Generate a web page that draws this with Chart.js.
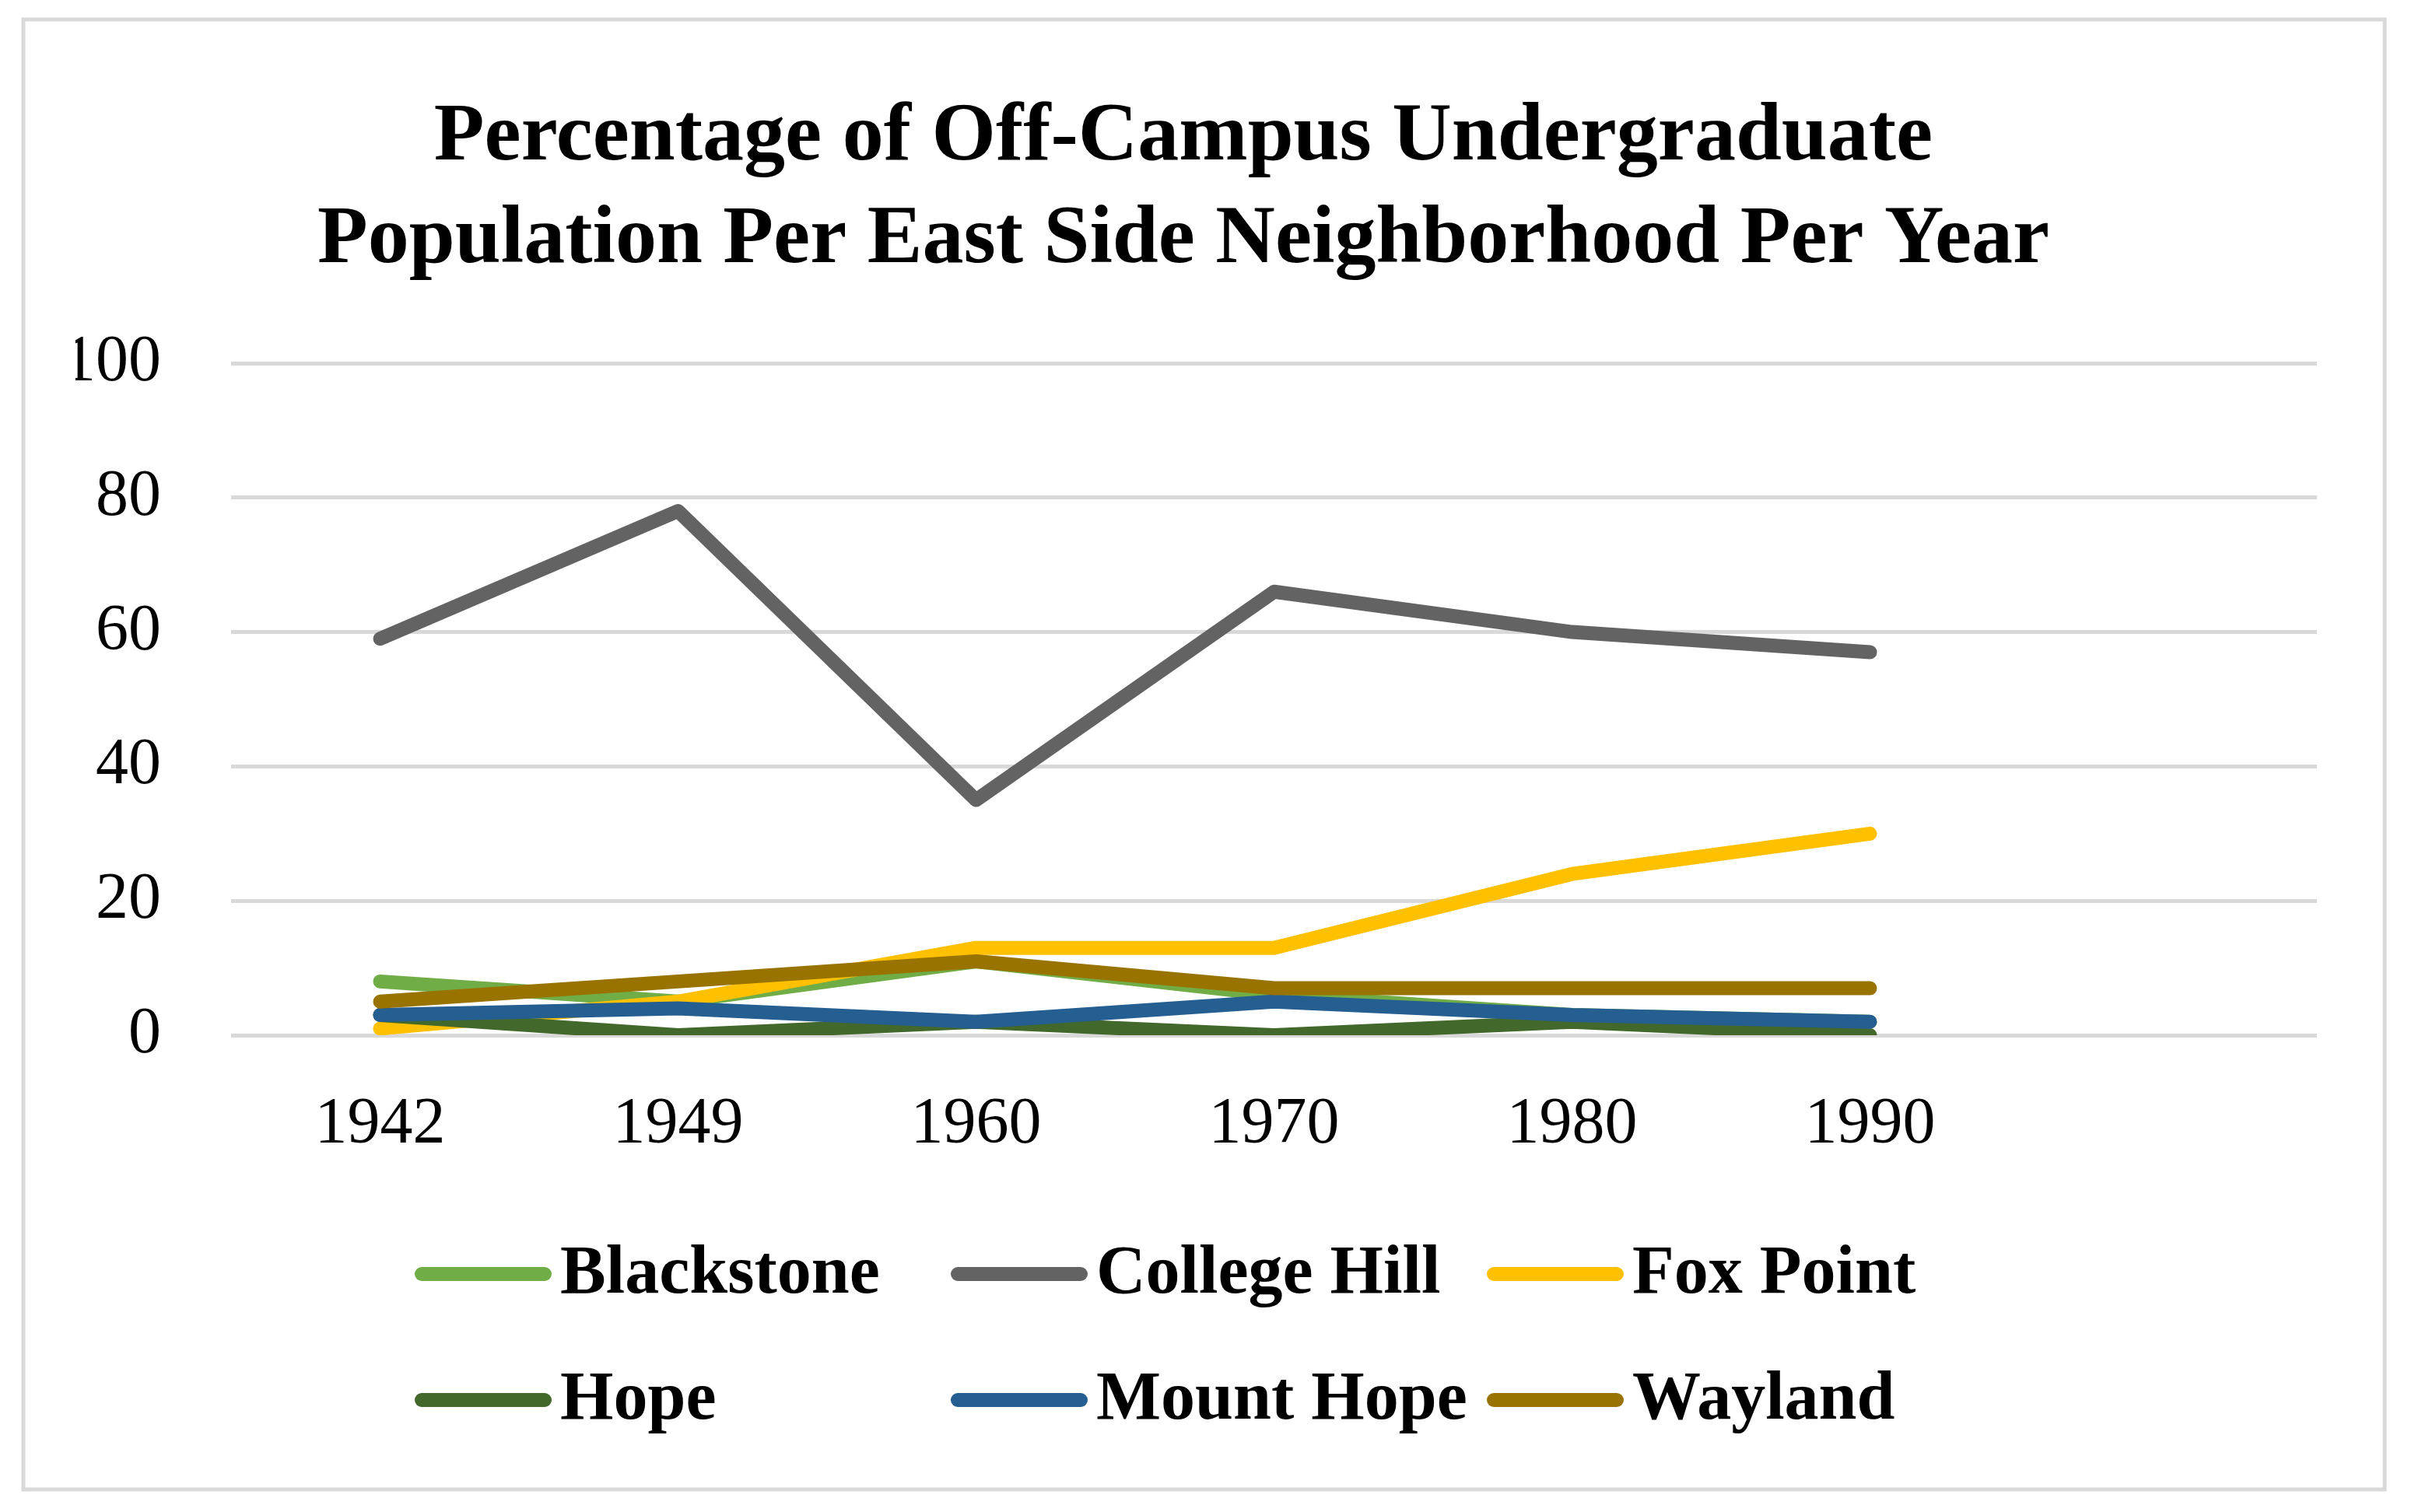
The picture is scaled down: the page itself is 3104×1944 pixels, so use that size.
<!DOCTYPE html>
<html lang="en">
<head>
    <meta charset="UTF-8">
    <title>Off-Campus Undergraduate Population</title>
    <script src="https://cdn.jsdelivr.net/npm/chart.js@4/dist/chart.umd.min.js"></script>
    <style>
        body { margin: 0; background: #fff; }
        canvas { display: block; }
    </style>
</head>
<body>
    <canvas id="chart" width="3104" height="1944" style="width:3104px;height:1944px"></canvas>

    <script>
        // Data (percent of off-campus undergrads)
        const years = ['1942', '1949', '1960', '1970', '1980', '1990', ''];
        const blackstone  = [8, 5, 11, 6, 3, 2, null];
        const collegeHill = [59, 78, 35, 66, 60, 57, null];
        const foxPoint    = [1, 5, 13, 13, 24, 30, null];
        const hope        = [3, 0, 2, 0, 2, 0, null];
        const mountHope   = [3, 4, 2, 5, 3, 2, null];
        const wayland     = [5, 8, 11, 7, 7, 7, null];
        const yTicks = [0, 20, 40, 60, 80, 100];

        const titleLines = ['Percentage of Off-Campus Undergraduate', 'Population Per East Side Neighborhood Per Year'];

        const series = [
            { label: 'Blackstone',   data: blackstone,  color: '#70AD47' },
            { label: 'College Hill', data: collegeHill, color: '#636363' },
            { label: 'Fox Point',    data: foxPoint,    color: '#FFC000' },
            { label: 'Hope',         data: hope,        color: '#43682B' },
            { label: 'Mount Hope',   data: mountHope,   color: '#255E91' },
            { label: 'Wayland',      data: wayland,     color: '#997300' }
        ];

        // background, frame, title and the 3-column legend
        const decor = {
            id: 'decor',
            beforeDraw(chart) {
                const c = chart.ctx;
                c.save();
                c.fillStyle = '#fff';
                c.fillRect(0, 0, chart.width, chart.height);
                c.strokeStyle = '#d9d9d9';
                c.lineWidth = 5;
                c.strokeRect(30, 25, 3035, 1890);
                c.restore();
            },
            afterDraw(chart) {
                const c = chart.ctx;
                c.save();
                c.fillStyle = '#000';
                c.textAlign = 'center';
                c.textBaseline = 'alphabetic';
                c.font = 'bold 106px "Liberation Serif"';
                c.fillText(titleLines[0], 1521, 205);
                c.fillText(titleLines[1], 1521, 337);

                c.textAlign = 'left';
                c.font = 'bold 88px "Liberation Serif"';
                chart.data.datasets.forEach((ds, i) => {
                    const x0 = 533 + (i % 3) * 689;
                    const y = 1638 + Math.floor(i / 3) * 162;
                    c.strokeStyle = ds.borderColor;
                    c.lineWidth = 18;
                    c.lineCap = 'round';
                    c.beginPath();
                    c.moveTo(x0 + 9, y);
                    c.lineTo(x0 + 167, y);
                    c.stroke();
                    c.fillText(ds.label, x0 + 187, y + 24);
                });
                c.restore();
            }
        };

        const ctx = document.getElementById('chart').getContext('2d');
        const chart = new Chart(ctx, {
            type: 'line',
            data: {
                labels: years,
                datasets: series.map((s, i) => ({
                    label: s.label,
                    data: s.data,
                    borderColor: s.color,
                    backgroundColor: s.color,
                    borderWidth: 18,
                    borderCapStyle: 'round',
                    borderJoinStyle: 'round',
                    pointRadius: 0,
                    fill: false,
                    tension: 0,
                    order: series.length - i   // later series on top, like Excel
                }))
            },
            options: {
                responsive: false,
                devicePixelRatio: 1,
                animation: false,
                layout: { padding: { left: 97, right: 126, top: 467, bottom: 433 } },
                plugins: {
                    legend: { display: false },
                    title: { display: false },
                    tooltip: { enabled: false }
                },
                scales: {
                    x: {
                        offset: true,
                        grid: { display: false, drawTicks: false },
                        border: { display: false },
                        ticks: {
                            autoSkip: false,
                            maxRotation: 0,
                            padding: 66,
                            color: '#000',
                            font: { family: 'Liberation Serif', size: 84 }
                        },
                        afterFit: s => { s.height = 180; }
                    },
                    y: {
                        min: 0,
                        max: 100,
                        afterBuildTicks: s => { s.ticks = yTicks.map(v => ({ value: v })); },
                        grid: { color: '#d9d9d9', lineWidth: 5, drawTicks: false },
                        border: { display: false },
                        ticks: {
                            padding: 90,
                            color: '#000',
                            font: { family: 'Liberation Serif', size: 84 }
                        },
                        afterFit: s => { s.width = 200; }
                    }
                }
            },
            plugins: [decor]
        });
    </script>
</body>
</html>
